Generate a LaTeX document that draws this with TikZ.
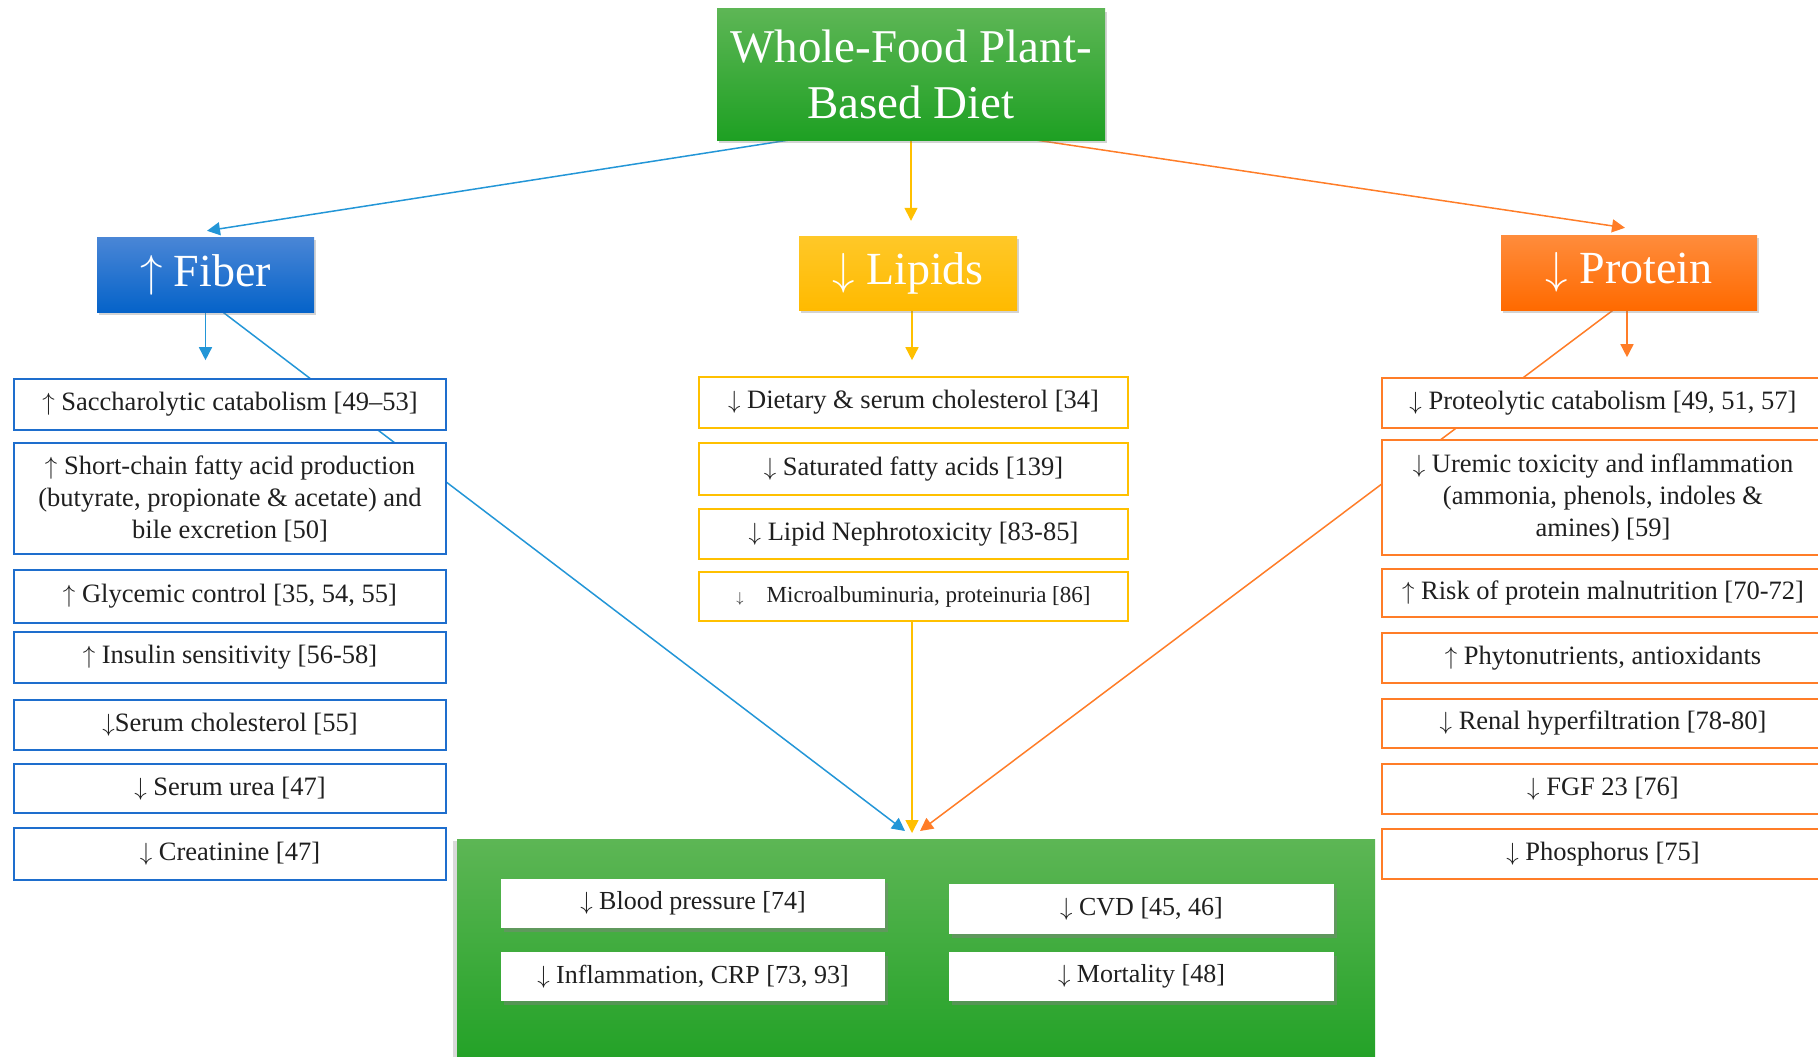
\documentclass[tikz,border=0pt]{standalone}
\usepackage{graphicx}
\usepackage{fontspec}
\setmainfont{Liberation Serif}
\usetikzlibrary{arrows.meta,shadows,calc}
\definecolor{fibbox}{RGB}{30,110,205}
\definecolor{fibtop}{RGB}{74,134,214}
\definecolor{fibbot}{RGB}{5,99,201}
\definecolor{fibline}{RGB}{35,150,215}
\definecolor{lipc}{RGB}{255,192,0}
\definecolor{liptop}{RGB}{255,200,40}
\definecolor{lipbot}{RGB}{255,186,0}
\definecolor{proc}{RGB}{255,125,40}
\definecolor{protop}{RGB}{255,140,60}
\definecolor{probot}{RGB}{255,106,0}
\definecolor{grtop}{RGB}{93,182,85}
\definecolor{grbot}{RGB}{30,160,35}
\pgfdeclarelayer{bg}
\pgfsetlayers{bg,main}
\newcommand{\upar}{$\uparrow$}
\newcommand{\dnar}{$\downarrow$}
\newcommand{\hupar}{\scalebox{1.8}{$\uparrow$}}
\newcommand{\hdnar}{\scalebox{1.8}{$\downarrow$}}
\begin{document}
\begin{tikzpicture}[x=1pt,y=-1pt,
  itm/.style={draw, line width=2.6pt, fill=white, inner sep=0pt, align=center, text=black!88,
    font=\fontsize{26.5}{32}\selectfont},
  sz/.style 2 args={minimum width=#1pt, minimum height=#2pt},
  bitem/.style={itm, draw=fibbox},
  litem/.style={itm, draw=lipc},
  pitem/.style={itm, draw=proc},
  head/.style={inner sep=0pt, align=center, text=white,
    drop shadow={opacity=0.35, shadow xshift=2pt, shadow yshift=-3pt}},
  outc/.style={fill=white, inner sep=0pt, align=center, text=black!88,
    font=\fontsize{26}{32}\selectfont,
    drop shadow={opacity=0.45, shadow xshift=3pt, shadow yshift=-4pt}},
  conn/.style={line width=1.5pt, -{Triangle[length=13pt,width=13pt]}},
  plain/.style={line width=1.5pt}
]
\useasboundingbox (0,0) rectangle (1818,1057);
\clip (0,0) rectangle (1818,1057);

% top node
\node[head, sz={388}{131}, top color=grtop, bottom color=grbot,
  font=\fontsize{47}{56}\selectfont] (top) at (911,74.5) {Whole-Food Plant-\\Based Diet};

% category nodes
\node[head, sz={217}{75}, top color=fibtop, bottom color=fibbot,
  font=\fontsize{46}{50}\selectfont] (fib) at (205.5,274.5) {\hupar\ Fiber};
\node[head, sz={218}{74}, top color=liptop, bottom color=lipbot,
  font=\fontsize{46}{50}\selectfont] (lip) at (908,273) {\hdnar\ Lipids};
\node[head, sz={256}{75}, top color=protop, bottom color=probot,
  font=\fontsize{46}{50}\selectfont] (pro) at (1629,272.5) {\hdnar\ Protein};

% fiber items
\node[bitem, sz={432}{51}] (f1) at (230,404.5) {\upar\ Saccharolytic catabolism [49--53]};
\node[bitem, sz={432}{111}] (f2) at (230,498.5) {\upar\ Short-chain fatty acid production\\(butyrate, propionate \& acetate) and\\bile excretion [50]};
\node[bitem, sz={432}{53}] (f3) at (230,596.5) {\upar\ Glycemic control [35, 54, 55]};
\node[bitem, sz={432}{51}] (f4) at (230,657.5) {\upar\ Insulin sensitivity [56-58]};
\node[bitem, sz={432}{50}] (f5) at (230,725) {\dnar Serum cholesterol [55]};
\node[bitem, sz={432}{49}] (f6) at (230,788.5) {\dnar\ Serum urea [47]};
\node[bitem, sz={432}{52}] (f7) at (230,854) {\dnar\ Creatinine [47]};

% lipid items
\node[litem, sz={429}{51}] (l1) at (913.5,402.5) {\dnar\ Dietary \& serum cholesterol [34]};
\node[litem, sz={429}{52}] (l2) at (913.5,469) {\dnar\ Saturated fatty acids [139]};
\node[litem, sz={429}{50}] (l3) at (913.5,534) {\dnar\ Lipid Nephrotoxicity [83-85]};
\node[litem, sz={429}{49}, font=\fontsize{23}{26}\selectfont] (l4) at (913.5,596.5) {{\fontsize{15}{16}\selectfont\dnar}\quad Microalbuminuria, proteinuria [86]};

% protein items
\node[pitem, sz={442}{50}] (p1) at (1603,403) {\dnar\ Proteolytic catabolism [49, 51, 57]};
\node[pitem, sz={442}{115}] (p2) at (1603,497.5) {\dnar\ Uremic toxicity and inflammation\\(ammonia, phenols, indoles \&\\amines) [59]};
\node[pitem, sz={442}{48}] (p3) at (1603,593) {\upar\ Risk of protein malnutrition [70-72]};
\node[pitem, sz={442}{50}] (p4) at (1603,658) {\upar\ Phytonutrients, antioxidants};
\node[pitem, sz={442}{49}] (p5) at (1603,723.5) {\dnar\ Renal hyperfiltration [78-80]};
\node[pitem, sz={442}{50}] (p6) at (1603,789) {\dnar\ FGF 23 [76]};
\node[pitem, sz={442}{50}] (p7) at (1603,854) {\dnar\ Phosphorus [75]};

% outcome box
\node[sz={918}{240}, inner sep=0pt, top color=grtop, bottom color=grbot,
  drop shadow={opacity=0.3, shadow xshift=-4pt, shadow yshift=-2pt}] (out) at (916,959) {};
\node[outc, sz={384}{49}] (o1) at (693,903.5) {\dnar\ Blood pressure [74]};
\node[outc, sz={385}{50}] (o2) at (1141.5,909) {\dnar\ CVD [45, 46]};
\node[outc, sz={384}{49}] (o3) at (693,976.5) {\dnar\ Inflammation, CRP [73, 93]};
\node[outc, sz={385}{49}] (o4) at (1141.5,976.5) {\dnar\ Mortality [48]};

\coordinate (tipB) at (905,831);
\coordinate (tipL) at (912,833);
\coordinate (tipP) at (920,831);

\begin{pgfonlayer}{bg}
  \draw[conn, fibline] ($(top.south)+(-123,0)$) -- ($(fib.north)+(1.5,-6)$);
  \draw[conn, lipc] (top.south) -- ($(lip.north)+(3,-15)$);
  \draw[conn, proc] ($(top.south)+(126,0)$) -- ($(pro.north)+(-4,-7)$);
  \draw[conn, fibline] (fib.south) -- ++(0,48);
  \draw[conn, lipc] ($(lip.south)+(4,0)$) -- ++(0,50);
  \draw[conn, proc] ($(pro.south)+(-2,0)$) -- ++(0,47);
  \draw[conn, fibline] ($(fib.south)+(17.5,0)$) -- (tipB);
  \draw[conn, proc] ($(pro.south)+(-16,0)$) -- (tipP);
  \draw[conn, lipc] ($(l4.south)+(-1.5,0)$) -- (tipL);
\end{pgfonlayer}
\end{tikzpicture}
\end{document}
